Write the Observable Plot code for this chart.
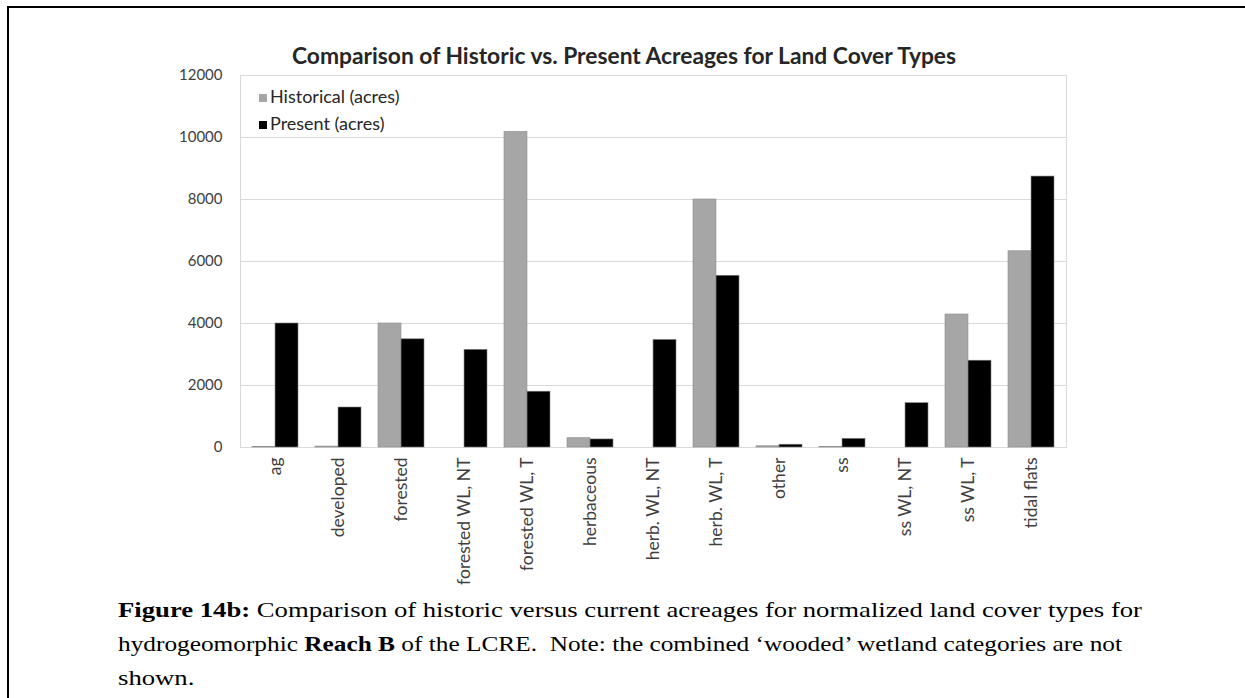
<!DOCTYPE html>
<html>
<head>
<meta charset="utf-8">
<script src="https://cdn.jsdelivr.net/npm/d3@7"></script>
<script src="https://cdn.jsdelivr.net/npm/@observablehq/plot@0.6"></script>
<style>
  html, body { margin: 0; padding: 0; background: #fff; width: 1245px; height: 698px; overflow: hidden; }
  #frame { position: absolute; left: 7px; top: 6px; width: 1400px; height: 900px; border-top: 2px solid #000; border-left: 2px solid #000; }
  #title { position: absolute; left: 292px; top: 41px; font-family: Lato, "Open Sans", sans-serif; font-weight: bold; font-size: 22.8px; color: #262626; white-space: nowrap; }
  #chart { position: absolute; left: 0; top: 0; }
  #legend { position: absolute; left: 259px; top: 83px; font-family: Lato, "Open Sans", sans-serif; font-size: 18px; color: #262626; line-height: 27px; white-space: nowrap; }
  #legend .sw { display: inline-block; width: 8px; height: 8px; margin-right: 3px; vertical-align: 1px; }
  #caption { position: absolute; left: 118px; top: 593px; font-family: "Liberation Serif", "Times New Roman", serif; font-size: 22px; line-height: 34px; color: #000; white-space: nowrap; }
  #caption .line { display: block; width: max-content; transform-origin: 0 50%; }
</style>
</head>
<body>
<div id="frame"></div>
<div id="chart"></div>
<div id="title">Comparison of Historic vs. Present Acreages for Land Cover Types</div>
<div id="legend"></div>
<div id="caption"></div>
<script>
const categories = ["ag", "developed", "forested", "forested WL, NT", "forested WL, T", "herbaceous", "herb. WL, NT", "herb. WL, T", "other", "ss", "ss WL, NT", "ss WL, T", "tidal flats"];
const historical = [20, 30, 4000, 0, 10180, 300, 0, 8000, 40, 15, 0, 4290, 6330];
const present = [4000, 1290, 3490, 3150, 1800, 260, 3470, 5540, 90, 280, 1430, 2800, 8740];
const seriesNames = ["Historical (acres)", "Present (acres)"];
const seriesColors = ["#a6a6a6", "#000000"];
const yTicks = [0, 2000, 4000, 6000, 8000, 10000, 12000];

const W = 1245, H = 600, mL = 240, mR = 179, mT = 75, mB = 153;
const padInner = 0.275, padOuter = 0.1375;
const bw = d3.scaleBand().domain(categories).range([mL, W - mR]).paddingInner(padInner).paddingOuter(padOuter).bandwidth();

const hist = categories.map((c, i) => ({category: c, value: historical[i]}));
const pres = categories.map((c, i) => ({category: c, value: present[i]}));

const font = 'Lato, "Open Sans", sans-serif';
const chart = Plot.plot({
  width: W, height: H,
  marginLeft: mL, marginRight: mR, marginTop: mT, marginBottom: mB,
  style: {fontFamily: font, fontSize: "15px", color: "#404040", background: "transparent"},
  x: {domain: categories, paddingInner: padInner, paddingOuter: padOuter, label: null},
  y: {domain: [0, 12000], label: null},
  marks: [
    Plot.gridY(yTicks, {stroke: "#d9d9d9", strokeOpacity: 1}),
    Plot.frame({stroke: "#d9d9d9"}),
    Plot.barY(hist, {x: "category", y: "value", fill: seriesColors[0], stroke: "#8c8c8c", strokeWidth: 0.6, insetRight: bw / 2}),
    Plot.barY(pres, {x: "category", y: "value", fill: seriesColors[1], stroke: "#7f7f7f", strokeWidth: 0.6, insetLeft: bw / 2}),
    Plot.axisY({ticks: yTicks, tickSize: 0, tickPadding: 18, tickFormat: d => String(d), fontSize: 15}),
    Plot.axisX({tickSize: 0, tickPadding: 10, tickRotate: -90, fontSize: 17.5})
  ]
});
document.getElementById("chart").appendChild(chart);

const legend = document.getElementById("legend");
seriesNames.forEach((n, i) => {
  const row = document.createElement("div");
  row.innerHTML = `<span class="sw" style="background:${seriesColors[i]}"></span>${n}`;
  legend.appendChild(row);
});

const captionLines = [
  '<b>Figure 14b:</b> Comparison of historic versus current acreages for normalized land cover types for',
  'hydrogeomorphic <b>Reach B</b> of the LCRE.&nbsp; Note: the combined \u2018wooded\u2019 wetland categories are not',
  'shown.'
];
const lineWidths = [1024, 1004, null];
const cap = document.getElementById("caption");
let k0 = 1;
captionLines.forEach((t, i) => {
  const s = document.createElement("span");
  s.className = "line";
  s.innerHTML = t;
  cap.appendChild(s);
  const nat = s.getBoundingClientRect().width;
  const k = lineWidths[i] ? lineWidths[i] / nat : k0;
  if (i === 0) k0 = k;
  s.style.transform = `scaleX(${k})`;
});
</script>
</body>
</html>
